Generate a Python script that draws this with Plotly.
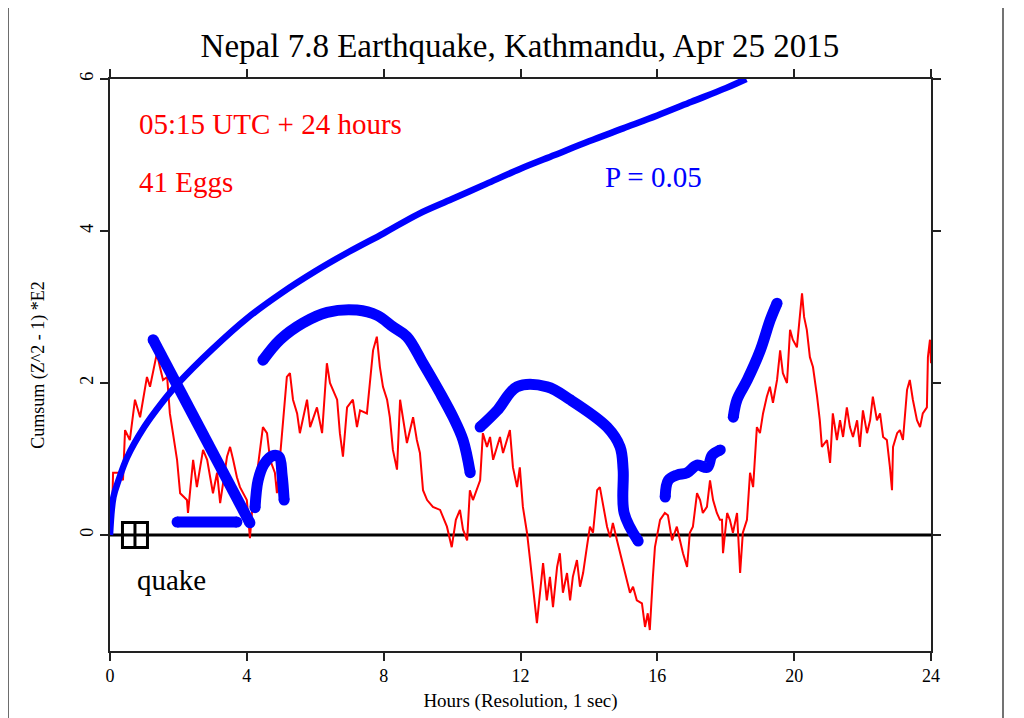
import plotly.graph_objects as go

# ---- data ----
red_t = [0.0, 0.05, 0.09, 0.29, 0.38, 0.44, 0.58, 0.73, 0.88, 1.08, 1.17, 1.37, 1.46, 1.55, 1.67, 1.75, 1.84, 1.96, 2.05, 2.25, 2.28, 2.43, 2.54, 2.72, 2.84, 3.01, 3.13, 3.22, 3.42, 3.51, 3.6, 3.71, 3.8, 3.89, 4.0, 4.09, 4.15, 4.47, 4.59, 4.68, 4.82, 4.88, 5.17, 5.26, 5.35, 5.47, 5.55, 5.76, 5.85, 6.05, 6.2, 6.34, 6.43, 6.64, 6.72, 6.81, 6.93, 7.1, 7.22, 7.31, 7.51, 7.69, 7.8, 7.89, 7.98, 8.1, 8.18, 8.27, 8.39, 8.48, 8.56, 8.68, 8.86, 8.97, 9.06, 9.15, 9.27, 9.44, 9.65, 9.85, 9.99, 10.11, 10.23, 10.32, 10.44, 10.52, 10.61, 10.82, 10.9, 11.02, 11.11, 11.2, 11.4, 11.49, 11.69, 11.78, 11.9, 11.98, 12.07, 12.19, 12.28, 12.36, 12.48, 12.57, 12.66, 12.77, 12.86, 12.95, 13.07, 13.15, 13.24, 13.36, 13.45, 13.53, 13.65, 13.74, 13.83, 13.94, 14.03, 14.12, 14.24, 14.32, 14.41, 14.53, 14.62, 14.7, 14.82, 14.91, 15.0, 15.11, 15.2, 15.29, 15.4, 15.55, 15.64, 15.72, 15.78, 15.87, 15.93, 16.08, 16.22, 16.31, 16.43, 16.57, 16.66, 16.75, 16.87, 16.95, 17.04, 17.16, 17.25, 17.33, 17.45, 17.54, 17.63, 17.74, 17.83, 17.89, 17.92, 18.04, 18.12, 18.21, 18.33, 18.42, 18.5, 18.62, 18.71, 18.8, 18.91, 19.0, 19.09, 19.2, 19.29, 19.38, 19.5, 19.59, 19.67, 19.79, 19.88, 19.96, 20.08, 20.17, 20.23, 20.29, 20.37, 20.46, 20.55, 20.67, 20.75, 20.81, 20.96, 21.05, 21.13, 21.25, 21.34, 21.43, 21.54, 21.63, 21.72, 21.84, 21.92, 22.01, 22.13, 22.22, 22.3, 22.42, 22.51, 22.6, 22.71, 22.8, 22.86, 22.89, 23.01, 23.09, 23.18, 23.3, 23.38, 23.47, 23.59, 23.68, 23.76, 23.88, 23.91, 23.97, 24.0]
red_v = [0.0, 0.07, 0.82, 0.82, 0.72, 1.38, 1.25, 1.78, 1.55, 2.08, 1.95, 2.39, 2.21, 2.04, 2.08, 1.6, 1.34, 0.99, 0.55, 0.46, 0.29, 0.99, 0.63, 1.12, 0.99, 0.55, 0.82, 0.42, 1.03, 1.16, 0.99, 0.76, 0.63, 0.55, 0.46, -0.04, 0.29, 1.42, 1.34, 0.99, 0.82, 0.55, 2.08, 2.13, 1.78, 1.6, 1.34, 1.78, 1.42, 1.68, 1.34, 2.26, 2.0, 1.78, 1.34, 1.03, 1.68, 1.78, 1.42, 1.64, 1.6, 2.43, 2.61, 2.21, 1.95, 1.78, 1.55, 1.12, 0.86, 1.78, 1.55, 1.21, 1.55, 1.25, 1.08, 0.59, 0.46, 0.37, 0.33, 0.11, -0.16, 0.2, 0.33, 0.07, -0.07, 0.59, 0.46, 0.72, 1.34, 1.16, 1.29, 0.99, 1.29, 1.08, 1.38, 0.89, 0.63, 0.89, 0.37, 0.03, -0.33, -0.68, -1.16, -0.76, -0.37, -0.86, -0.55, -0.95, -0.42, -0.24, -0.76, -0.5, -0.86, -0.55, -0.33, -0.68, -0.5, -0.16, 0.11, 0.03, 0.59, 0.63, 0.42, 0.11, -0.03, 0.16, -0.07, -0.24, -0.42, -0.59, -0.76, -0.68, -0.86, -0.9, -1.21, -1.03, -1.25, -0.55, -0.16, 0.2, 0.29, 0.26, -0.07, 0.11, -0.07, -0.24, -0.42, 0.03, 0.11, 0.55, 0.46, 0.29, 0.37, 0.72, 0.46, 0.29, 0.2, 0.2, -0.24, 0.29, 0.2, 0.03, 0.29, -0.5, 0.03, 0.2, 0.82, 0.63, 1.42, 1.34, 1.6, 1.82, 1.95, 1.74, 2.04, 2.43, 2.13, 2.0, 2.7, 2.57, 2.47, 2.87, 3.18, 2.87, 2.7, 2.34, 2.21, 1.82, 1.51, 1.16, 1.25, 0.95, 1.6, 1.25, 1.51, 1.29, 1.68, 1.42, 1.29, 1.51, 1.16, 1.64, 1.34, 1.51, 1.82, 1.51, 1.6, 1.29, 1.25, 0.89, 0.59, 1.16, 1.34, 1.38, 1.25, 1.91, 2.04, 1.78, 1.51, 1.42, 1.6, 1.68, 2.34, 2.57, 2.26]

# P = 0.05 envelope
env_t = [0.0, 0.1, 0.25, 0.5, 1.0, 1.5, 2.0, 3.0, 4.0, 5.0, 6.0, 7.0, 8.0, 9.0, 10.0, 11.0, 12.0, 13.0, 14.0, 15.0, 16.0, 17.0, 18.0, 18.6]
env_v = [0.0, 0.5, 0.72, 1.02, 1.42, 1.73, 2.0, 2.45, 2.85, 3.18, 3.47, 3.73, 3.97, 4.22, 4.42, 4.62, 4.82, 5.0, 5.18, 5.35, 5.52, 5.7, 5.88, 6.0]

# hand-drawn blue strokes
strokes = [
    ([1.26, 4.09], [2.57, 0.16]),
    ([1.96, 3.71], [0.17, 0.17]),
    ([4.24, 4.33, 4.50, 4.74, 4.94, 5.03, 5.09], [0.36, 0.72, 0.93, 1.04, 1.03, 0.79, 0.46]),
    ([4.47, 4.97, 5.64, 6.35, 7.22, 7.81, 8.27, 8.68, 9.15, 9.65, 10.03, 10.32, 10.53],
     [2.30, 2.57, 2.79, 2.93, 2.96, 2.89, 2.74, 2.61, 2.26, 1.87, 1.55, 1.25, 0.82]),
    ([10.82, 11.32, 11.90, 12.78, 13.45, 14.53, 14.91, 15.0, 15.03, 15.44],
     [1.42, 1.64, 1.95, 1.95, 1.78, 1.42, 1.16, 0.86, 0.29, -0.08]),
    ([16.23, 16.32, 16.58, 16.87, 17.16, 17.46, 17.60, 17.84],
     [0.50, 0.72, 0.79, 0.82, 0.92, 0.89, 1.05, 1.12]),
    ([18.22, 18.33, 18.63, 19.01, 19.30, 19.50], [1.55, 1.78, 2.04, 2.43, 2.83, 3.05]),
]

x_ticks = [0, 4, 8, 12, 16, 20, 24]
y_ticks = [0, 2, 4, 6]
quake_t = [0.73]
quake_v = [0.0]

FONT = "Liberation Serif"
BLUE = "#0000ff"

fig = go.Figure()

fig.add_shape(type="line", xref="x", yref="y", x0=0, x1=24, y0=0, y1=0,
              line=dict(color="black", width=3), layer="below")

fig.add_trace(go.Scatter(x=red_t, y=red_v, mode="lines",
                         line=dict(color="#ff0000", width=2), hoverinfo="skip"))
fig.add_trace(go.Scatter(x=env_t, y=env_v, mode="lines", line_shape="spline",
                         line=dict(color=BLUE, width=6.5), hoverinfo="skip"))
for sx, sy in strokes:
    fig.add_trace(go.Scatter(x=sx, y=sy, mode="lines+markers", line_shape="spline",
                             line=dict(color=BLUE, width=11),
                             marker=dict(color=BLUE, opacity=1, line=dict(width=0),
                                         size=[11] + [0] * (len(sx) - 2) + [11]),
                             hoverinfo="skip"))

fig.add_trace(go.Scatter(x=quake_t, y=quake_v, mode="markers",
                         marker=dict(symbol="square-cross", size=25, color="white",
                                     line=dict(color="black", width=3)),
                         hoverinfo="skip"))

ann = [
    dict(x=0.033, y=0.921, text="05:15 UTC + 24 hours", color="#ff0000"),
    dict(x=0.033, y=0.82, text="41 Eggs", color="#ff0000"),
    dict(x=0.6, y=0.829, text="P = 0.05", color=BLUE),
    dict(x=0.03, y=0.124, text="quake", color="black"),
]
for a in ann:
    fig.add_annotation(x=a["x"], y=a["y"], xref="paper", yref="paper", text=a["text"],
                       showarrow=False, xanchor="left", yanchor="middle",
                       font=dict(family=FONT, size=29, color=a["color"]))

# outer picture border
for px in (-0.1242, 1.0877):
    fig.add_shape(type="line", xref="paper", yref="paper", x0=px, x1=px, y0=-0.2, y1=1.2,
                  line=dict(color="#444444", width=1.5))

fig.update_layout(
    width=1024, height=718,
    margin=dict(l=102, r=101, t=71, b=75),
    paper_bgcolor="white", plot_bgcolor="white",
    showlegend=False,
    title=dict(text="Nepal 7.8 Earthquake, Kathmandu, Apr 25 2015", x=0.5, xanchor="center",
               y=0.948, yanchor="middle", font=dict(family=FONT, size=33, color="black")),
    font=dict(family=FONT, color="black"),
)
fig.update_xaxes(range=[0, 24], tickvals=x_ticks, ticktext=[str(v) for v in x_ticks],
                 showgrid=False, zeroline=False, showline=True, linecolor="#222", linewidth=1.5,
                 mirror="ticks", ticks="outside", ticklen=8, tickcolor="#222", tickwidth=1.5,
                 tickfont=dict(family=FONT, size=18),
                 title=dict(text="Hours (Resolution, 1 sec)", font=dict(family=FONT, size=19), standoff=8))
fig.update_yaxes(range=[-1.526, 6], tickvals=y_ticks, ticktext=[str(v) for v in y_ticks],
                 showgrid=False, zeroline=False, showline=True, linecolor="#222", linewidth=1.5,
                 mirror="ticks", ticks="outside", ticklen=8, tickcolor="#222", tickwidth=1.5,
                 tickangle=-90, tickfont=dict(family=FONT, size=18),
                 title=dict(text="Cumsum (Z^2 - 1) *E2", font=dict(family=FONT, size=18), standoff=28))

fig.write_html("out.html")
